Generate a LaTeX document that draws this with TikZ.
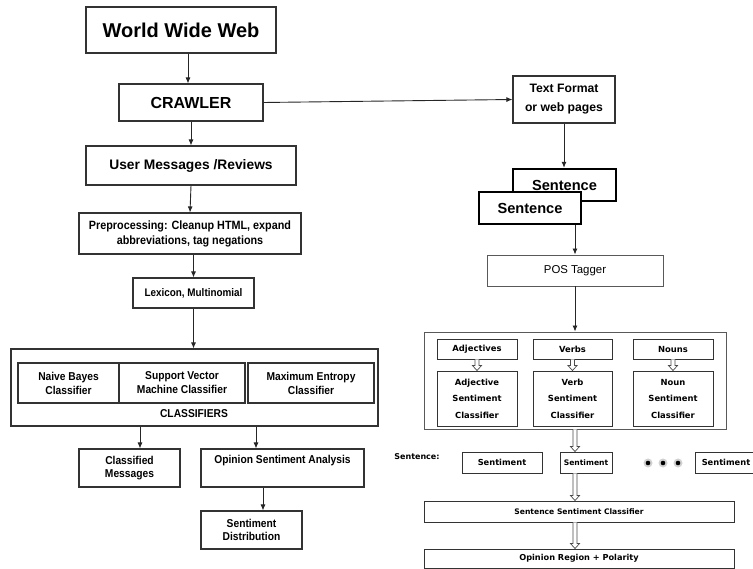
\documentclass[tikz,border=0pt]{standalone}
\usepackage{fontspec}
\setmainfont{Liberation Sans}
\newfontfamily\nsans[FakeStretch=0.9]{Liberation Sans}
\newfontfamily\tsans{DejaVu Sans}
\usetikzlibrary{arrows.meta,calc}
\newcommand\harrow[2]{\draw[line width=0.7pt, draw=black!70, fill=white] let \p1=(#1), \p2=(#2) in (\x1-2pt,\y1) -- (\x1-2pt,\y2+5pt) -- (\x1-4.5pt,\y2+5pt) -- (\x1,\y2) -- (\x1+4.5pt,\y2+5pt) -- (\x1+2pt,\y2+5pt) -- (\x1+2pt,\y1);}
\begin{document}
\begin{tikzpicture}[x=1pt,y=-1pt,
  box/.style={draw=black!80, line width=1.1pt, fill=white, inner sep=1pt, align=center},
  tbox/.style={draw=black!65, line width=0.9pt, fill=white, inner sep=1pt, align=center},
  sbox/.style={draw=black, line width=2.4pt, fill=white, inner sep=1pt, align=center, font=\bfseries\fontsize{14.6}{16}\selectfont},
  nfont/.style={font=\nsans\bfseries\fontsize{11.4}{14}\selectfont},
  tfont/.style={font=\tsans\bfseries\fontsize{8.4}{16.5}\selectfont},
  arr/.style={-{Latex[length=6pt,width=5pt]}, line width=0.9pt, draw=black!85}]
\useasboundingbox[fill=white] (0,0) rectangle (753,569);

% left column
\node[box, minimum width=190pt, minimum height=46pt, font=\bfseries\fontsize{20}{24}\selectfont] (www) at (181,30) {World Wide Web};
\node[box, minimum width=144pt, minimum height=37pt, font=\bfseries\fontsize{16}{19}\selectfont] (crawler) at (191,102.5) {CRAWLER};
\node[box, minimum width=210pt, minimum height=39pt, font=\bfseries\fontsize{13.8}{16}\selectfont] (user) at (191,165.5) {User Messages /Reviews};
\node[box, minimum width=222pt, minimum height=41pt, font=\nsans\bfseries\fontsize{12}{15}\selectfont] (pre) at (190,233.5) {Preprocessing: Cleanup HTML, expand\\abbreviations, tag negations};
\node[box, minimum width=121pt, minimum height=30pt, font=\nsans\bfseries\fontsize{11}{14}\selectfont] (lex) at (193.5,293) {Lexicon, Multinomial};
\node[box, minimum width=367pt, minimum height=77pt] (cls) at (194.5,387.5) {};
\node[box, nfont, minimum width=101pt, minimum height=40pt] (nb) at (68.5,383) {Naive Bayes\\Classifier};
\node[box, nfont, minimum width=126pt, minimum height=40pt] (svm) at (182,383) {Support Vector\\Machine Classifier};
\node[box, nfont, minimum width=126pt, minimum height=40pt] (me) at (311,383) {Maximum Entropy\\Classifier};
\node[nfont, inner sep=0pt] (clslabel) at (194,414) {CLASSIFIERS};
\node[box, minimum width=101pt, minimum height=38pt, font=\nsans\bfseries\fontsize{11.4}{13.5}\selectfont] (cm) at (129.5,468) {Classified\\Messages};
\node[box, minimum width=163pt, minimum height=38pt] (osa) at (282.5,468) {};
\node[nfont, inner sep=0pt] (osalabel) at (282.5,461) {Opinion Sentiment Analysis};
\node[box, minimum width=101pt, minimum height=38pt, font=\nsans\bfseries\fontsize{11.4}{13.5}\selectfont] (sd) at (251.5,530) {Sentiment\\Distribution};

\draw[arr] ([xshift=7pt]www.south) -- ([xshift=-3pt]crawler.north);
\draw[arr] (crawler.south) -- (user.north);
\draw[arr] (user.south) -- (pre.north);
\draw[arr] (pre.south -| lex.north) -- (lex.north);
\draw[arr] (lex.south) -- (lex.south |- cls.north);
\path ([xshift=10.5pt]cm.north) coordinate (cmin) ([xshift=-26.5pt]osa.north) coordinate (osain) ([xshift=11.5pt]sd.north) coordinate (sdin);
\draw[arr] (cls.south -| cmin) -- (cmin);
\draw[arr] (cls.south -| osain) -- (osain);
\draw[arr] (osa.south -| sdin) -- (sdin);

% right column
\node[box, minimum width=102pt, minimum height=47pt, font=\bfseries\fontsize{12.2}{19}\selectfont] (tf) at (564,99.5) {Text Format\\or web pages};
\draw[arr] (crawler.east) -- (tf.west);
\node[sbox, minimum width=103pt, minimum height=32pt] (s1) at (564.5,185) {Sentence};
\node[sbox, minimum width=102pt, minimum height=32pt] (s2) at (530,208) {Sentence};
\draw[arr] (tf.south) -- (tf.south |- s1.north);
\node[tbox, minimum width=176pt, minimum height=31pt, font=\fontsize{11.4}{14}\selectfont] (pos) at (575,270.5) {POS Tagger};
\draw[arr] (s2.south -| pos.north) -- (pos.north);
\node[tbox, minimum width=302pt, minimum height=97pt] (rb) at (575,380.5) {};
\draw[arr] (pos.south) -- (rb.north);

\node[tbox, tfont, draw=black!80, minimum width=80pt, minimum height=20pt] (adj) at (477,349) {Adjectives};
\node[tbox, tfont, draw=black!80, minimum width=79pt, minimum height=20pt] (verbs) at (572.5,349) {Verbs};
\node[tbox, tfont, draw=black!80, minimum width=80pt, minimum height=20pt] (nouns) at (673,349) {Nouns};
\node[tbox, tfont, draw=black!80, minimum width=80pt, minimum height=55pt] (adjc) at (477,398.5) {Adjective\\Sentiment\\Classifier};
\node[tbox, tfont, draw=black!80, minimum width=79pt, minimum height=55pt] (verbc) at (572.5,398.5) {Verb\\Sentiment\\Classifier};
\node[tbox, tfont, draw=black!80, minimum width=80pt, minimum height=55pt] (nounc) at (673,398.5) {Noun\\Sentiment\\Classifier};
\harrow{adj.south}{adjc.north}
\harrow{verbs.south}{verbc.north}
\harrow{nouns.south}{nounc.north}

\node[font=\tsans\bfseries\fontsize{8}{10}\selectfont, inner sep=0pt] (sentlabel) at (417,457) {Sentence:};
\node[tbox, draw=black!80, minimum width=80pt, minimum height=21pt, font=\tsans\bfseries\fontsize{8.3}{10}\selectfont] (se1) at (502,462.5) {Sentiment};
\node[tbox, draw=black!80, minimum width=52pt, minimum height=21pt, font=\tsans\bfseries\fontsize{7.6}{10}\selectfont] (se2) at (586,462.5) {Sentiment};
\node[tbox, draw=black!80, minimum width=62pt, minimum height=21pt, font=\tsans\bfseries\fontsize{8.3}{10}\selectfont] (se3) at (726,462.5) {Sentiment};
\foreach \dx in {648,663,678}{
  \fill[black!18] (\dx,463) circle (4.5pt);
  \fill[black] (\dx,463) circle (2.3pt);
}
\node[tbox, draw=black!80, minimum width=310pt, minimum height=21pt, font=\tsans\bfseries\fontsize{7.6}{10}\selectfont] (ssc) at (579,511.5) {Sentence Sentiment Classifier};
\node[tbox, draw=black!80, minimum width=310pt, minimum height=19pt, font=\tsans\bfseries\fontsize{8.2}{10}\selectfont] (opr) at (579,558.5) {Opinion Region + Polarity};
\harrow{rb.south}{rb.south |- se2.north}
\harrow{se2.south -| rb.south}{ssc.north -| rb.south}
\harrow{ssc.south -| rb.south}{opr.north -| rb.south}
\end{tikzpicture}
\end{document}
